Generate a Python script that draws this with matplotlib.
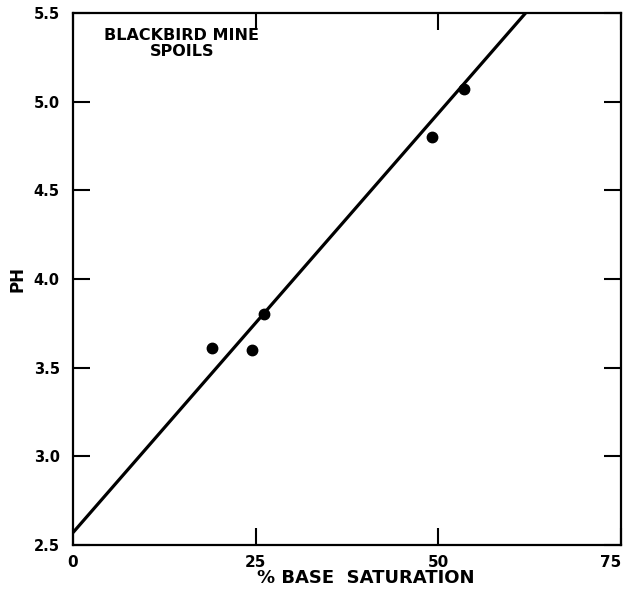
import matplotlib
matplotlib.use('Agg')
import matplotlib.pyplot as plt
import numpy as np

# Blackbird mine spoils: pH vs % base saturation
base_sat = [19.0, 24.5, 26.1, 49.2, 53.5]
ph = [3.61, 3.60, 3.80, 4.80, 5.07]

# fitted line
intercept = 2.57
slope = 0.0473

x_ticks = [0, 25, 50, 75]
y_ticks = [2.5, 3.0, 3.5, 4.0, 4.5, 5.0, 5.5]

fig = plt.figure(figsize=(6.26, 5.96), dpi=100)
ax = fig.add_axes([73 / 626, 1 - 545 / 596, 548 / 626, 532 / 596])

xl = np.array([0, (5.5 - intercept) / slope])
ax.plot(xl, intercept + slope * xl, color='black', lw=2.3, solid_capstyle='butt')
ax.plot(base_sat, ph, 'o', color='black', ms=7.5)

ax.set_xlim(0, 75)
ax.set_ylim(2.5, 5.5)
ax.set_xticks(x_ticks)
ax.set_yticks(y_ticks)
ax.set_xticklabels([str(v) for v in x_ticks], fontweight='bold', fontsize=11)
ax.set_yticklabels(['%.1f' % v for v in y_ticks], fontweight='bold', fontsize=10.5)
ax.get_xticklabels()[-1].set_horizontalalignment('right')
ax.tick_params(direction='in', length=12, width=1.5, top=True, right=True)
ax.tick_params(axis='y', pad=9.5)
ax.tick_params(axis='x', pad=7)

for s in ax.spines.values():
    s.set_linewidth(1.6)

ax.set_xlabel('% BASE  SATURATION', fontweight='bold', fontsize=13)
ax.xaxis.set_label_coords(0.535, -0.045)
ax.set_ylabel('PH', fontweight='bold', fontsize=12)
ax.yaxis.set_label_coords(-0.084, 0.5)

ax.text(14.9, 5.33, 'BLACKBIRD MINE\nSPOILS', ha='center', va='center',
        fontweight='bold', fontsize=11.5, linespacing=1.1)

fig.savefig('out.png', dpi=100)
